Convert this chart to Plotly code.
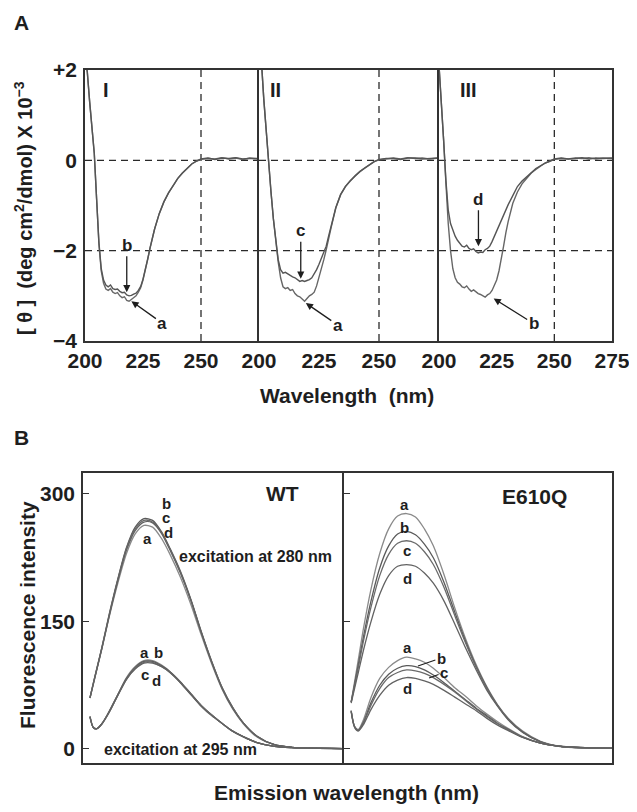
import plotly.graph_objects as go

# page body has an 8 px margin; the figure is sized/offset so it fits the 637x812 window
OFF = 8
W, H = 637 - OFF, 812 - OFF
FONT = "Liberation Sans, Arial, Helvetica, sans-serif"
TXT = "#1e1e1e"
AX = "#333333"

# ---------------- Panel A: CD spectra ----------------
cd_wl = [200, 201, 202, 203, 204, 205, 206, 207, 208, 209, 210, 211, 212, 213, 214, 215, 216,
         217, 218, 219, 220, 221, 222, 223, 224, 225, 226, 227, 228, 229, 230, 232, 234, 236,
         238, 240, 242, 244, 246, 248, 250, 253, 256, 259, 262, 265, 268, 271, 275]

cd_I_a = [2.35, 1.95, 1.30, 0.75, 0.15, -0.85, -1.85, -2.45, -2.72, -2.85, -2.88, -2.84, -2.92,
          -2.95, -2.93, -3.00, -3.04, -3.02, -3.10, -3.12, -3.08, -3.04, -3.00, -2.92, -2.82,
          -2.65, -2.45, -2.20, -1.95, -1.72, -1.52, -1.18, -0.92, -0.72, -0.55, -0.40, -0.28,
          -0.18, -0.08, -0.02, 0.02, 0.04, 0.03, 0.06, 0.03, 0.05, 0.02, 0.05, 0.03]
cd_I_b = [2.35, 1.95, 1.30, 0.75, 0.15, -0.85, -1.82, -2.40, -2.65, -2.76, -2.80, -2.76, -2.84,
          -2.86, -2.85, -2.90, -2.93, -2.92, -2.98, -3.00, -2.99, -2.96, -2.94, -2.88, -2.79,
          -2.63, -2.44, -2.19, -1.95, -1.72, -1.52, -1.18, -0.92, -0.72, -0.55, -0.40, -0.28,
          -0.18, -0.08, -0.02, 0.03, 0.05, 0.02, 0.05, 0.04, 0.06, 0.03, 0.04, 0.04]

cd_II_a = [2.60, 2.20, 1.35, 0.60, -0.05, -0.70, -1.30, -1.80, -2.25, -2.60, -2.80, -2.84, -2.82,
           -2.88, -2.86, -2.95, -3.00, -3.02, -3.08, -3.12, -3.06, -3.00, -2.97, -2.92, -2.78,
           -2.60, -2.42, -2.20, -1.98, -1.72, -1.50, -1.05, -0.76, -0.58, -0.45, -0.34, -0.25,
           -0.17, -0.09, -0.03, 0.01, 0.03, 0.05, 0.03, 0.06, 0.04, 0.05, 0.03, 0.05]
cd_II_c = [2.60, 2.20, 1.35, 0.60, -0.05, -0.70, -1.30, -1.78, -2.20, -2.42, -2.50, -2.48, -2.52,
           -2.55, -2.58, -2.60, -2.64, -2.68, -2.66, -2.68, -2.66, -2.64, -2.60, -2.52, -2.42,
           -2.30, -2.16, -2.02, -1.90, -1.68, -1.48, -1.05, -0.76, -0.58, -0.45, -0.34, -0.25,
           -0.17, -0.09, -0.03, 0.02, 0.04, 0.04, 0.02, 0.05, 0.05, 0.03, 0.04, 0.05]

cd_III_b = [2.10, 1.35, 0.45, -0.50, -1.40, -2.00, -2.40, -2.60, -2.70, -2.74, -2.80, -2.82, -2.78,
            -2.85, -2.90, -2.87, -2.92, -2.95, -2.97, -3.00, -3.03, -2.98, -2.95, -2.88, -2.78,
            -2.65, -2.45, -2.20, -1.90, -1.60, -1.35, -0.95, -0.70, -0.52, -0.40, -0.28, -0.20,
            -0.12, -0.06, -0.02, 0.02, 0.04, 0.03, 0.05, 0.04, 0.06, 0.03, 0.05, 0.04]
cd_III_d = [2.10, 1.35, 0.45, -0.45, -1.10, -1.40, -1.55, -1.68, -1.77, -1.85, -1.90, -1.92, -1.88,
            -1.95, -1.98, -1.96, -2.02, -2.05, -2.03, -2.04, -1.98, -1.95, -1.90, -1.80, -1.68,
            -1.56, -1.46, -1.32, -1.18, -1.08, -0.98, -0.78, -0.58, -0.46, -0.36, -0.26, -0.18,
            -0.12, -0.06, -0.02, 0.03, 0.05, 0.03, 0.04, 0.06, 0.03, 0.05, 0.04, 0.05]

cd_panels = ["I", "II", "III"]
cd_ticks = [[200, 225, 250], [200, 225, 250], [200, 225, 250, 275]]
cd_yticks = [2, 0, -2, -4]
cd_yticktext = ["+2", "0", "\u22122", "\u22124"]

# ---------------- Panel B: fluorescence ----------------
fl_wl = [304, 306, 308, 311, 315, 320, 325, 330, 335, 340, 345, 350, 356, 362, 368, 374,
         380, 386, 392, 400, 410, 420, 435, 450]

# WT, excitation 280 nm
wt280_a = [60, 77, 94, 119, 155, 195, 230, 253, 263, 261, 248, 229, 202, 170, 134, 100,
           70, 47, 30, 14, 5, 2, 1, 0.5]
wt280_b = [60, 78, 95, 121, 158, 200, 237, 261, 271, 269, 256, 236, 209, 176, 138, 103,
           72, 49, 31, 15, 5, 2, 1, 0.5]
wt280_c = [60, 78, 95, 120, 157, 199, 236, 259, 269, 267, 255, 235, 208, 175, 137, 102,
           72, 49, 31, 15, 5, 2, 1, 0.5]
wt280_d = [60, 77, 94, 120, 156, 198, 234, 257, 267, 266, 254, 234, 207, 175, 137, 102,
           71, 48, 31, 15, 5, 2, 1, 0.5]
# WT, excitation 295 nm
wt295_a = [38, 25, 24, 30, 44, 64, 84, 97, 104, 104, 99, 91, 79, 65, 51, 40,
           30, 21, 14.5, 7.5, 3, 1.5, 0.8, 0.5]
wt295_b = [38, 25, 24, 30, 44, 64, 83, 96, 103, 103, 98, 91, 79, 65, 51, 40,
           30, 21, 14.5, 7.5, 3, 1.5, 0.8, 0.5]
wt295_c = [38, 25, 24, 30, 43, 63, 82, 95, 102, 102, 97, 90, 78, 64, 51, 40,
           30, 21, 14.5, 7.5, 3, 1.5, 0.8, 0.5]
wt295_d = [38, 25, 24, 30, 43, 63, 82, 94, 101, 101, 97, 90, 78, 64, 50, 39,
           30, 21, 14.5, 7.5, 3, 1.5, 0.8, 0.5]

# E610Q, excitation 280 nm
mu280_a = [55, 80, 105, 143, 187, 230, 259, 274, 277, 273, 259, 239, 205, 166, 130, 99,
           73, 52, 36, 21, 9, 3.5, 1.2, 0.8]
mu280_b = [55, 77, 99, 133, 173, 213, 239, 253, 256, 252, 241, 225, 196, 161, 127, 97,
           72, 51, 35, 20, 8.5, 3.3, 1.2, 0.8]
mu280_c = [55, 75, 96, 128, 166, 204, 229, 242, 245, 242, 232, 217, 190, 157, 125, 96,
           71, 51, 35, 20, 8.5, 3.3, 1.2, 0.8]
mu280_d = [54, 72, 90, 117, 149, 182, 204, 215, 217, 215, 207, 195, 174, 147, 119, 93,
           69, 50, 34, 19.5, 8.3, 3.2, 1.2, 0.8]
# E610Q, excitation 295 nm
mu295_a = [45, 26, 23, 35, 60, 83, 96, 104, 108, 106, 102, 95, 84, 72, 62, 51,
           41, 32, 24, 14.5, 7, 3.5, 1.5, 1]
mu295_b = [45, 26, 22, 32, 54, 75, 88, 95, 98, 97, 93, 87, 78, 68, 58, 48,
           39, 30, 23, 14, 7, 3.4, 1.5, 1]
mu295_c = [45, 26, 22, 31, 51, 71, 84, 90, 93, 92, 89, 84, 76, 67, 57, 47,
           38, 30, 22.5, 14, 7, 3.4, 1.5, 1]
mu295_d = [44, 25, 21, 29, 46, 63, 75, 81, 84, 83, 80, 76, 69, 61, 53, 45,
           36, 28, 21.5, 13.5, 6.8, 3.3, 1.5, 1]

fl_yticks = [0, 150, 300]

# ---------------- figure ----------------
fig = go.Figure()

def px_x(p):
    return (p - OFF) / W

def px_y(p):
    return 1 - (p - OFF) / H

cd_series = [
    [("a", cd_I_a, "#6a6a6a"), ("b", cd_I_b, "#555555")],
    [("a", cd_II_a, "#666666"), ("c", cd_II_c, "#555555")],
    [("b", cd_III_b, "#666666"), ("d", cd_III_d, "#555555")],
]
for i, series in enumerate(cd_series):
    xa = "x" if i == 0 else f"x{i+1}"
    ya = "y" if i == 0 else f"y{i+1}"
    for name, vals, col in series:
        fig.add_trace(go.Scatter(x=cd_wl, y=vals, mode="lines", xaxis=xa, yaxis=ya,
                                 line=dict(color=col, width=1.4), showlegend=False, name=name))

fl_series = [
    [wt280_a, wt280_b, wt280_c, wt280_d, wt295_a, wt295_b, wt295_c, wt295_d],
    [mu280_a, mu280_b, mu280_c, mu280_d, mu295_a, mu295_b, mu295_c, mu295_d],
]
fl_cols = ["#8a8a8a", "#5a5a5a", "#6a6a6a", "#626262"]
for j, group in enumerate(fl_series):
    xa, ya = f"x{4+j}", f"y{4+j}"
    for k, vals in enumerate(group):
        fig.add_trace(go.Scatter(x=fl_wl, y=vals, mode="lines", xaxis=xa, yaxis=ya,
                                 line=dict(color=fl_cols[k % 4], width=1.3, shape="spline",
                                           smoothing=0.8),
                                 showlegend=False))

tickfont = dict(family=FONT, size=21, color=TXT, weight="bold")
common = dict(showline=True, linecolor=AX, linewidth=1.5, showgrid=False,
              zeroline=False, automargin=False)

cd_dom = [(85, 259), (259, 439), (439, 612)]
ydomA = [px_y(341), px_y(70)]
layout = dict(width=W, height=H, margin=dict(l=0, r=0, t=0, b=0, autoexpand=False),
              paper_bgcolor="white", plot_bgcolor="white", showlegend=False)
for i, (a, b) in enumerate(cd_dom):
    sx = "" if i == 0 else str(i + 1)
    layout[f"xaxis{sx}"] = dict(domain=[px_x(a), px_x(b)], anchor=f"y{sx}", range=[200, 275],
                                tickvals=cd_ticks[i], ticks="", tickfont=tickfont,
                                ticklabelstandoff=0, mirror=True, **common)
    layout[f"yaxis{sx}"] = dict(domain=ydomA, anchor=f"x{sx}", range=[-4, 2],
                                tickvals=cd_yticks, ticktext=cd_yticktext, ticks="",
                                showticklabels=(i == 0), tickfont=tickfont,
                                ticklabelstandoff=2, mirror=(i == 2), **common)

ydomB = [px_y(763), px_y(473)]
for j, (a, b) in enumerate([(83, 344), (344, 612)]):
    sx = str(4 + j)
    layout[f"xaxis{sx}"] = dict(domain=[px_x(a), px_x(b)], anchor=f"y{sx}", range=[300, 450],
                                showticklabels=False, ticks="", mirror=True, **common)
    layout[f"yaxis{sx}"] = dict(domain=ydomB, anchor=f"x{sx}", range=[-16.5, 324.7],
                                tickvals=fl_yticks, ticks="inside", ticklen=6, tickcolor=AX,
                                tickwidth=1.3, showticklabels=(j == 0), tickfont=tickfont,
                                ticklabelstandoff=2, mirror=(j == 1), **common)
fig.update_layout(**layout)

# dashed reference lines in panel A
dash = dict(color="#2a2a2a", width=1.3, dash="7px,5px")
for i in range(3):
    sx = "" if i == 0 else str(i + 1)
    for yv in (0, -2):
        fig.add_shape(type="line", xref=f"x{sx} domain", yref=f"y{sx}", x0=0, x1=1,
                      y0=yv, y1=yv, line=dash, layer="below")
    fig.add_shape(type="line", xref=f"x{sx}", yref=f"y{sx} domain", x0=250, x1=250,
                  y0=0, y1=1, line=dash, layer="below")

def bold(size):
    return dict(family=FONT, size=size, color=TXT, weight="bold")

C = dict(xanchor="center", yanchor="middle", showarrow=False)
ann = []
# panel letters
ann.append(dict(text="A", xref="paper", yref="paper", x=px_x(22), y=px_y(23),
                font=bold(21), **C))
ann.append(dict(text="B", xref="paper", yref="paper", x=px_x(22), y=px_y(438),
                font=bold(21), **C))
# axis titles
ann.append(dict(text="[\u00a0\u03b8\u00a0]\u00a0\u00a0(deg\u00a0cm<sup>2</sup>/dmol)\u00a0X\u00a010<sup>\u22123</sup>",
                xref="paper", yref="paper", x=px_x(24), y=px_y(208), textangle=-90,
                font=bold(20), **C))
ann.append(dict(text="Wavelength\u00a0\u00a0(nm)", xref="paper", yref="paper",
                x=px_x(347), y=px_y(395), font=bold(21), **C))
ann.append(dict(text="Fluorescence intensity", xref="paper", yref="paper",
                x=px_x(27), y=px_y(615), textangle=-90, font=bold(21), **C))
ann.append(dict(text="Emission wavelength (nm)", xref="paper", yref="paper",
                x=px_x(346), y=px_y(792), font=bold(21), **C))

# panel numerals
for (lab, xv, ax) in [("I", 209, "x"), ("II", 207, "x2"), ("III", 212.9, "x3")]:
    ya = ax.replace("x", "y")
    ann.append(dict(text=lab, xref=ax, yref=ya, x=xv, y=1.56, font=bold(20), **C))

# arrows in panel A
arrow_def = dict(showarrow=True, arrowhead=2, arrowsize=1.1, arrowwidth=1.3,
                 arrowcolor="#1e1e1e", font=bold(17), standoff=0)
for (lab, ax, xv, yv, dx, dy) in [
        ("b", "x", 218, -2.92, 0, -47), ("a", "x", 220, -3.12, 31, 22),
        ("c", "x2", 217.4, -2.62, 0, -48), ("a", "x2", 219.5, -3.16, 32, 22),
        ("d", "x3", 217.1, -1.9, 0, -47), ("b", "x3", 223.7, -3.06, 40, 25)]:
    ya = ax.replace("x", "y")
    ann.append(dict(text=lab, xref=ax, yref=ya, x=xv, y=yv, ax=dx, ay=dy, **arrow_def))

# panel B labels
for (lab, ax, xv, yv, sz) in [
        ("WT", "x4", 414.4, 301, 21), ("E610Q", "x5", 406.6, 296.5, 21),
        ("excitation at 280 nm", "x4", 398.9, 226, 16),
        ("excitation at 295 nm", "x4", 356.3, -1, 16),
        ("b", "x4", 347.7, 289, 15), ("c", "x4", 347.7, 272, 15), ("d", "x4", 348.9, 255, 15),
        ("a", "x4", 336.8, 248, 15),
        ("a", "x4", 335.6, 113, 15), ("b", "x4", 343.5, 113, 15),
        ("c", "x4", 335.6, 88, 15), ("d", "x4", 342, 81, 15),
        ("a", "x5", 334.1, 288, 15), ("b", "x5", 334.1, 261, 15), ("c", "x5", 335.3, 233, 15),
        ("d", "x5", 335.3, 201, 15),
        ("a", "x5", 335.3, 119, 15), ("d", "x5", 335.3, 70.6, 15)]:
    ya = ax.replace("x", "y")
    ann.append(dict(text=lab, xref=ax, yref=ya, x=xv, y=yv, font=bold(sz), **C))

for (lab, xv, yv, tx, ty) in [("b", 341.4, 97.6, 354.5, 107), ("c", 347.6, 83.5, 356, 90)]:
    ann.append(dict(text=lab, xref="x5", yref="y5", x=xv, y=yv, axref="x5", ayref="y5",
                    ax=tx, ay=ty, showarrow=True, arrowhead=0, arrowwidth=1.1,
                    arrowcolor="#1e1e1e", standoff=0, font=bold(15)))

fig.update_layout(annotations=ann)
fig.write_html("out.html")
